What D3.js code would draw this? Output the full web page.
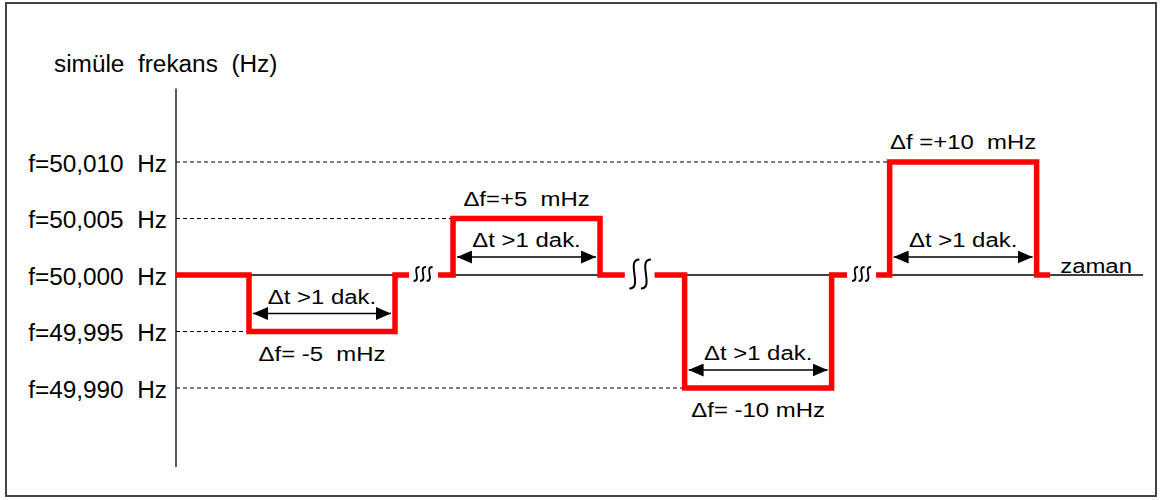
<!DOCTYPE html>
<html>
<head>
<meta charset="utf-8">
<script src="https://cdn.jsdelivr.net/npm/d3@7"></script>
<style>
  html, body { margin: 0; padding: 0; background: #fff; }
  svg { display: block; }
  text { font-family: Arial, "Liberation Sans", sans-serif; fill: #000; white-space: pre; }
</style>
</head>
<body>
<svg id="chart" width="1163" height="500"></svg>
<script>
// ---------- data ----------
const titleText = "simüle  frekans  (Hz)";
const timeLabel = "zaman";
const tickValues = [50.010, 50.005, 50.000, 49.995, 49.990];
const tickLabels = ["f=50,010  Hz", "f=50,005  Hz", "f=50,000  Hz", "f=49,995  Hz", "f=49,990  Hz"];
const baseFreq = 50.000;
const deltaF = [-0.005, 0.005, -0.010, 0.010];
const deltaLabels = ["Δf= -5  mHz", "Δf=+5  mHz", "Δf= -10 mHz", "Δf =+10  mHz"];
const durationLabel = "Δt >1 dak.";
// time (arbitrary units) of each test segment
const segStart = [0, 27.1, 49.5, 72.4];
const stepOn   = [7.55, 28.65, 52.6, 73.8];
const stepOff  = [22.65, 43.85, 67.8, 89.0];
const segEnd   = [24.1, 46.4, 69.4, 90.4];
const breakAt  = [25.55, 48.0, 70.9];
const breakKind = ["small", "large", "small"];
const timeDomain = [0, 100];
const freqDomain = [49.990, 50.010];
const axisFreqExtent = [49.983, 50.0165];

// ---------- layout ----------
const svg = d3.select("#chart");
const x = d3.scaleLinear().domain(timeDomain).range([176, 1143]);
const y = d3.scaleLinear().domain(freqDomain).range([388, 162]);

// frame
svg.append("rect").attr("x", 6).attr("y", 3).attr("width", 1150).attr("height", 493)
  .attr("fill", "none").attr("stroke", "#444").attr("stroke-width", 2);

// arrow markers
const defs = svg.append("defs");
defs.append("marker").attr("id", "ahEnd").attr("viewBox", "0 0 15 13")
  .attr("refX", 15).attr("refY", 6.5).attr("markerWidth", 15).attr("markerHeight", 13)
  .attr("markerUnits", "userSpaceOnUse").attr("orient", "auto")
  .append("path").attr("d", "M0,0 L15,6.5 L0,13 Z").attr("fill", "#000");
defs.append("marker").attr("id", "ahStart").attr("viewBox", "0 0 15 13")
  .attr("refX", 0).attr("refY", 6.5).attr("markerWidth", 15).attr("markerHeight", 13)
  .attr("markerUnits", "userSpaceOnUse").attr("orient", "auto")
  .append("path").attr("d", "M15,0 L0,6.5 L15,13 Z").attr("fill", "#000");

// y axis via d3.axisLeft (labels only)
const yAxis = d3.axisLeft(y).tickValues(tickValues)
  .tickFormat((d, i) => tickLabels[i]).tickSize(0).tickPadding(8.5);
const gy = svg.append("g").attr("transform", `translate(${x(0)},0)`).call(yAxis);
gy.select(".domain").remove();
gy.selectAll("text")
  .attr("font-size", 23).attr("font-family", "Arial, 'Liberation Sans', sans-serif")
  .attr("dy", "0.4em").attr("fill", "#000")
  .attr("transform", "scale(1.06,1)");

// vertical axis line
svg.append("line").attr("x1", x(0)).attr("x2", x(0))
  .attr("y1", y(axisFreqExtent[1])).attr("y2", y(axisFreqExtent[0]))
  .attr("stroke", "#000").attr("stroke-width", 1.3);

// title
svg.append("text").attr("transform", `translate(54,72) scale(1.06,1)`)
  .attr("font-size", 23).text(titleText);

// dashed reference lines to each step level
deltaF.forEach((d, i) => {
  svg.append("line")
    .attr("x1", x(0)).attr("x2", x(stepOn[i]))
    .attr("y1", y(baseFreq + d)).attr("y2", y(baseFreq + d))
    .attr("stroke", "#000").attr("stroke-width", 1).attr("stroke-dasharray", "4,3");
});

// thin time axis (broken at the squiggles)
const thinRuns = segStart.map((s, i) => [s, segEnd[i]]).concat([[segEnd[3], timeDomain[1]]]);
thinRuns.forEach(r => {
  svg.append("line").attr("x1", x(r[0])).attr("x2", x(r[1]))
    .attr("y1", y(baseFreq)).attr("y2", y(baseFreq))
    .attr("stroke", "#000").attr("stroke-width", 1.3);
});
svg.append("text").attr("transform", `translate(${x(segEnd[3]) + 10},${y(baseFreq) - 2}) scale(1.14,1)`)
  .attr("font-size", 21).text(timeLabel);

// red frequency profile
const line = d3.line().x(d => x(d[0])).y(d => y(d[1]));
deltaF.forEach((d, i) => {
  const f = baseFreq + d;
  const pts = [[segStart[i], baseFreq], [stepOn[i], baseFreq], [stepOn[i], f],
               [stepOff[i], f], [stepOff[i], baseFreq], [segEnd[i], baseFreq]];
  svg.append("path").attr("d", line(pts)).attr("fill", "none")
    .attr("stroke", "#ff0000").attr("stroke-width", 5.5)
    .attr("stroke-linejoin", "miter").attr("stroke-linecap", "butt");
});

// time-break squiggles
function squiggle(cx, cy, w, h) {
  return `M${cx + w / 2},${cy - h / 2} C${cx - w * 0.9},${cy - h * 0.5} ${cx + w * 0.9},${cy + h * 0.5} ${cx - w / 2},${cy + h / 2}`;
}
breakAt.forEach((b, i) => {
  const cx = x(b), cy = y(baseFreq) - 1;
  const big = breakKind[i] === "large";
  const n = big ? 2 : 3, gap = big ? 11.5 : 6.5, w = big ? 10 : 6, h = big ? 29 : 14;
  for (let k = 0; k < n; k++) {
    const px = cx + (k - (n - 1) / 2) * gap;
    svg.append("path").attr("d", squiggle(px, cy, w, h))
      .attr("fill", "none").attr("stroke", "#000").attr("stroke-width", big ? 2 : 1.8);
  }
});

// duration arrows and labels
deltaF.forEach((d, i) => {
  const lowY = Math.max(y(baseFreq), y(baseFreq + d));
  const ay = lowY - 18;
  const x1 = x(stepOn[i]) + 4, x2 = x(stepOff[i]) - 4;
  svg.append("line").attr("x1", x1).attr("x2", x2).attr("y1", ay).attr("y2", ay)
    .attr("stroke", "#000").attr("stroke-width", 1.5)
    .attr("marker-start", "url(#ahStart)").attr("marker-end", "url(#ahEnd)");
  const cx = (x(stepOn[i]) + x(stepOff[i])) / 2;
  svg.append("text").attr("transform", `translate(${cx},${ay - 10}) scale(1.14,1)`)
    .attr("text-anchor", "middle").attr("font-size", 21).text(durationLabel);
  // delta-f label
  const fy = y(baseFreq + d);
  const ty = d < 0 ? fy + 29 : fy - 13;
  svg.append("text").attr("transform", `translate(${cx},${ty}) scale(1.14,1)`)
    .attr("text-anchor", "middle").attr("font-size", 21).text(deltaLabels[i]);
});
</script>
</body>
</html>
